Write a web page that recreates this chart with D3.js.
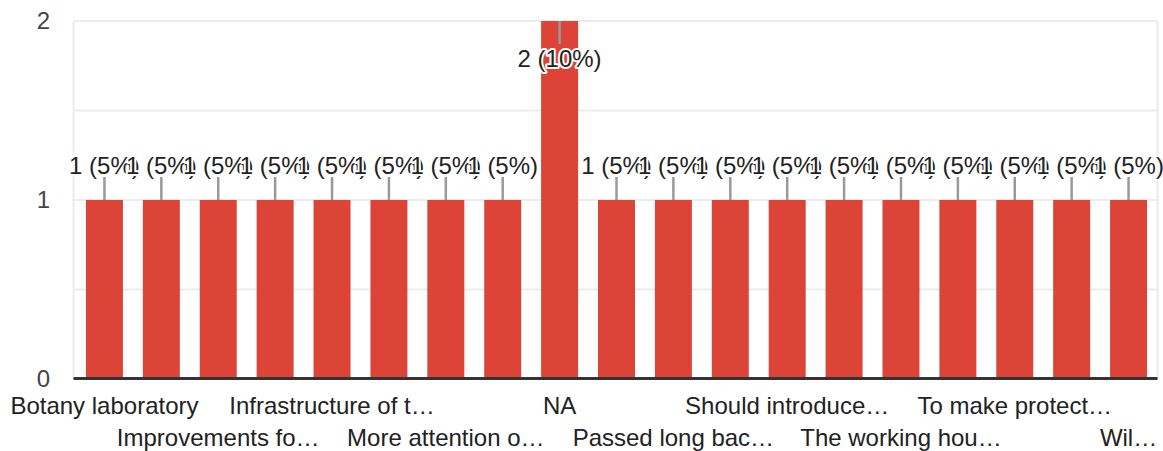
<!DOCTYPE html>
<html>
<head>
<meta charset="utf-8">
<script src="https://cdn.jsdelivr.net/npm/d3@7"></script>
<style>
  html, body { margin: 0; padding: 0; background: #fff; }
  svg { display: block; font-family: "Liberation Sans", Arial, sans-serif; }
</style>
</head>
<body>
<svg id="chart" width="1163" height="451"></svg>
<script>
// Category labels as shown (every other label is hidden by the chart's axis)
const categories = [
  "Botany laboratory", "", "Improvements fo…", "", "Infrastructure of t…", "",
  "More attention o…", "", "NA", "", "Passed long bac…", "", "Should introduce…", "",
  "The working hou…", "", "To make protect…", "", "Wil…"
];
const values = [1, 1, 1, 1, 1, 1, 1, 1, 2, 1, 1, 1, 1, 1, 1, 1, 1, 1, 1];
const yTicks = [0, 1, 2];
const yGrid = [0.5, 1, 1.5, 2];

const svg = d3.select("#chart");
const total = d3.sum(values);

const x = d3.scaleBand()
  .domain(d3.range(categories.length))
  .range([76, 1157])
  .paddingInner(0.35)
  .paddingOuter(0.175);

const y = d3.scaleLinear().domain([0, 2]).range([379, 21]);

const plotLeft = 73.5, plotRight = 1157.5;

// gridlines
svg.append("g").selectAll("line").data(yGrid).join("line")
  .attr("x1", plotLeft).attr("x2", plotRight)
  .attr("y1", d => y(d)).attr("y2", d => y(d))
  .attr("stroke", "#ececec").attr("stroke-width", 2);

// vertical frame lines
svg.append("g").selectAll("line").data([plotLeft, plotRight]).join("line")
  .attr("x1", d => d).attr("x2", d => d)
  .attr("y1", y(2)).attr("y2", y(0))
  .attr("stroke", "#ececec").attr("stroke-width", 2);

// bars
svg.append("g").selectAll("rect").data(values).join("rect")
  .attr("x", (d, i) => x(i))
  .attr("width", x.bandwidth())
  .attr("y", d => y(d))
  .attr("height", d => y(0) - y(d))
  .attr("fill", "#db4437");

// baseline
svg.append("line")
  .attr("x1", plotLeft).attr("x2", plotRight)
  .attr("y1", y(0) - 0.5).attr("y2", y(0) - 0.5)
  .attr("stroke", "#333").attr("stroke-width", 3);

// y tick labels
svg.append("g").selectAll("text").data(yTicks).join("text")
  .attr("x", 50)
  .attr("y", d => y(d))
  .attr("dy", "0.35em")
  .attr("text-anchor", "end")
  .attr("font-size", 24)
  .attr("fill", "#444")
  .text(d => d);

// x labels (alternating rows, every other category)
svg.append("g").selectAll("text")
  .data(categories.map((c, i) => ({ c, i })).filter(d => d.c !== ""))
  .join("text")
  .attr("x", d => x(d.i) + x.bandwidth() / 2)
  .attr("y", (d, k) => (k % 2 === 0 ? 414 : 446))
  .attr("text-anchor", "middle")
  .attr("font-size", 24)
  .attr("fill", "#222")
  .text(d => d.c);

// annotations: stems
const ann = values.map((v, i) => {
  const cx = x(i) + x.bandwidth() / 2;
  const inside = v === d3.max(values);
  return { v, i, cx, inside };
});

svg.append("g").selectAll("line").data(ann).join("line")
  .attr("x1", d => d.cx).attr("x2", d => d.cx)
  .attr("y1", d => y(d.v))
  .attr("y2", d => d.inside ? y(d.v) + 23 : y(d.v) - 23)
  .attr("stroke", "#999").attr("stroke-width", 2.5);

// annotation labels with white halo
svg.append("g").selectAll("text").data(ann).join("text")
  .attr("x", d => d.cx)
  .attr("y", d => d.inside ? y(d.v) + 46 : y(d.v) - 26)
  .attr("text-anchor", "middle")
  .attr("font-size", 24)
  .attr("fill", "#222")
  .attr("stroke", "#fff")
  .attr("stroke-width", 4)
  .attr("paint-order", "stroke")
  .attr("stroke-linejoin", "round")
  .text(d => `${d.v} (${Math.round(d.v / total * 100)}%)`);
</script>
</body>
</html>
